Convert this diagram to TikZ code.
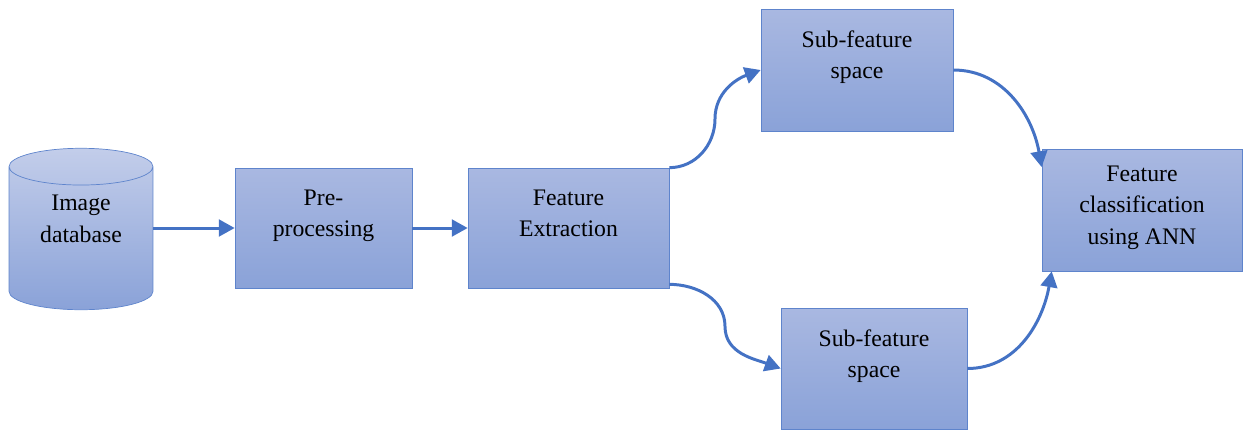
\documentclass[tikz,border=0pt]{standalone}
\usepackage{fontspec}
\setmainfont{Liberation Serif}
\usetikzlibrary{shapes.geometric,arrows.meta,calc}

\definecolor{mblue}{HTML}{4472C4}
\definecolor{mtop}{HTML}{A9B8E1}
\definecolor{mbot}{HTML}{8AA2D8}
\definecolor{mline}{HTML}{5E84CC}

\newcommand{\mlines}[1]{\begin{tabular}[t]{@{}c@{}}#1\end{tabular}}

\tikzset{mbox/.style = {shape = rectangle,
                        draw = mline,
                        top color = mtop,
                        bottom color = mbot,
                        inner sep = 0pt,
                        font = \fontsize{13.5}{18.2}\selectfont},
         mcyl/.style = {shape = cylinder,
                        shape border rotate = 90,
                        aspect = 0.45,
                        draw = mline,
                        top color = mtop!70!white,
                        bottom color = mbot,
                        inner sep = 0pt,
                        font = \fontsize{13.5}{18.2}\selectfont}}

\begin{document}
\begin{tikzpicture}[x = 0.02cm, y = -0.02cm,
                    marrow/.style = {draw = mblue,
                                     line width = 1.7pt,
                                     -{Triangle[length = 9pt, width = 9.5pt]}}]
    \useasboundingbox (0,0) rectangle (1243,430);
    % blocks
    \node[mcyl, anchor = shape center, minimum height = 3.22cm, minimum width = 2.88cm,
          text height = 0.5cm, text depth = 1.62cm] (1) at (81,229) {\mlines{Image\\database}};
    \node[mbox, minimum width = 3.54cm, text height = 0.74cm, text depth = 1.66cm] (2) at (323.5,228) {\mlines{Pre-\\processing}};
    \node[mbox, minimum width = 4.02cm, text height = 0.74cm, text depth = 1.66cm] (3) at (568.5,228) {\mlines{Feature\\Extraction}};
    \node[mbox, minimum width = 3.84cm, text height = 0.76cm, text depth = 1.68cm] (4) at (857,70) {\mlines{Sub-feature\\space}};
    \node[mbox, minimum width = 3.72cm, text height = 0.76cm, text depth = 1.66cm] (5) at (874,368.5) {\mlines{Sub-feature\\space}};
    \node[mbox, minimum width = 4.00cm, text height = 0.64cm, text depth = 1.80cm] (6) at (1142,210) {\mlines{Feature\\classification\\using ANN}};
    % arrows
    \path (1.east |- 2.west) edge[marrow] (2.west);
    \path (2) edge[marrow] (3);
    \draw[marrow] (3.north east) to[out = 0, in = -90] ($(3.north east)!0.5!(4.west)$)
                  to[out = 90, in = 200] (4.west);
    \draw[marrow] ([yshift = 0.08cm]3.south east) to[out = 0, in = 90] ($([yshift = 0.08cm]3.south east)!0.5!(5.west)$)
                  to[out = -90, in = 160] (5.west);
    \draw[marrow] (4.east) to[out = 0, in = 100] ($(6.north west)!0.15!(6.south west)$);
    \draw[marrow] (5.east) to[out = 0, in = -100] ($(6.south west)!0.05!(6.south east)$);
\end{tikzpicture}
\end{document}
